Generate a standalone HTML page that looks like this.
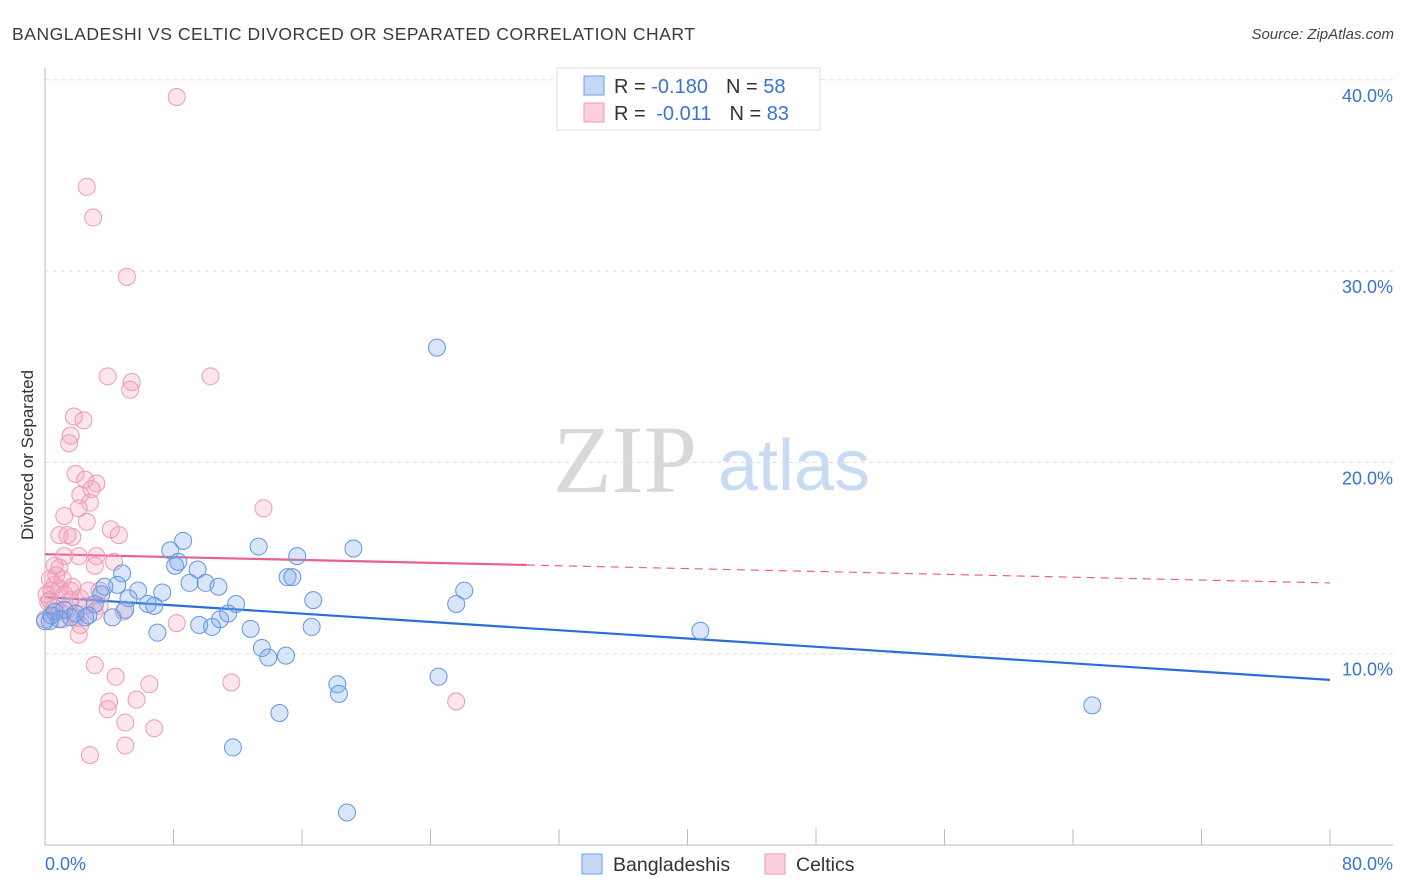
<!DOCTYPE html>
<html><head><meta charset="utf-8"><style>
body{margin:0;background:#fff;font-family:"Liberation Sans",sans-serif;}
svg{display:block}
</style></head><body>
<svg id="chart" width="1406" height="892" xmlns="http://www.w3.org/2000/svg">
<text x="12" y="40" font-size="17.5" fill="#3a3a3a" textLength="683" lengthAdjust="spacing">BANGLADESHI VS CELTIC DIVORCED OR SEPARATED CORRELATION CHART</text>
<text x="1394" y="39" font-size="15" fill="#444" font-style="italic" text-anchor="end">Source: ZipAtlas.com</text>
<g>
<text x="553" y="492" font-family="Liberation Serif,serif" font-size="96" fill="#d8d8d8">ZIP</text>
<text x="718" y="490" font-size="72" fill="#c8dbf3">atlas</text>
</g>
<g id="grid"></g>
<g id="axes"></g>
<g id="trend"></g>
<g id="points"></g>
<text transform="translate(33,455) rotate(-90)" font-size="17" fill="#333" text-anchor="middle">Divorced or Separated</text>
<g>
<rect x="557" y="68" width="263" height="62" fill="#fff" stroke="#ddd"/>
<rect x="584" y="76" width="20" height="19" fill="#c5d9f6" stroke="#6d9ee6"/>
<rect x="584" y="103" width="20" height="19" fill="#fbd0dc" stroke="#ee9ab4"/>
<text x="614" y="93" font-size="20" fill="#333">R = <tspan fill="#3b73d0">-0.180</tspan><tspan dx="18">N = </tspan><tspan fill="#3b73d0">58</tspan></text>
<text x="614" y="120" font-size="20" fill="#333">R = <tspan dx="5" fill="#3b73d0">-0.011</tspan><tspan dx="18">N = </tspan><tspan fill="#3b73d0">83</tspan></text>
</g>
<g>
<rect x="582" y="854" width="20" height="20" fill="#c5d9f6" stroke="#6d9ee6"/>
<text x="613" y="871" font-size="19.5" fill="#333">Bangladeshis</text>
<rect x="765" y="854" width="20" height="20" fill="#fbd0dc" stroke="#ee9ab4"/>
<text x="796" y="871" font-size="19.5" fill="#333">Celtics</text>
</g>
</svg>
<script>
const xTicks=[0,8,16,24,32,40,48,56,64,72,80];
const yTicks=[10,20,30,40];
const blueX=[24.4,7.8,8.6,13.3,15.7,19.2,8.1,8.3,9.5,15.1,15.4,9.0,10.0,10.8,4.8,3.7,4.5,5.8,7.3,26.1,5.2,6.4,6.8,11.9,16.7,25.6,3.5,3.1,2.5,1.6,0.6,0.3,2.7,4.2,5.0,9.6,10.4,10.9,11.4,12.8,16.6,7.0,13.5,13.9,15.0,40.8,18.2,18.3,24.5,14.6,11.7,18.8,65.2,1.2,1.9,0.9,0.0,0.4];
const blueY=[26.0,15.4,15.9,15.6,15.1,15.5,14.6,14.8,14.4,14.0,14.0,13.7,13.7,13.5,14.2,13.5,13.6,13.3,13.2,13.3,12.9,12.6,12.5,12.6,12.8,12.6,13.1,12.6,11.9,11.9,12.2,11.7,12.0,11.9,12.3,11.5,11.4,11.8,12.1,11.3,11.4,11.1,10.3,9.8,9.9,11.2,8.4,7.9,8.8,6.9,5.1,1.7,7.3,12.3,12.1,11.8,11.7,12.0];
const pinkX=[8.2,2.6,3.0,5.1,3.9,5.4,5.3,10.3,1.8,2.4,1.6,1.5,1.9,2.5,3.2,2.9,2.2,2.8,2.1,1.2,2.6,13.6,4.1,4.6,0.9,1.7,1.4,1.2,2.1,3.2,0.6,0.9,4.3,3.1,0.3,0.6,0.9,1.6,1.7,3.4,1.1,2.2,0.1,0.2,0.6,0.9,1.1,1.9,3.4,2.5,1.6,3.1,4.9,2.2,2.1,8.2,3.1,4.4,6.5,11.6,4.0,5.7,3.9,5.0,6.8,25.6,5.0,2.8,0.4,0.3,0.7,1.2,1.4,2.7,0.0];
const pinkY=[39.1,34.4,32.8,29.7,24.5,24.2,23.8,24.5,22.4,22.2,21.4,21.0,19.4,19.1,18.9,18.6,18.3,17.9,17.6,17.2,16.9,17.6,16.5,16.2,16.2,16.1,16.2,15.1,15.1,15.1,14.6,14.5,14.8,14.6,13.9,13.6,13.4,13.3,13.5,13.3,13.9,12.9,13.1,12.7,12.4,12.2,11.8,11.9,12.5,12.5,12.8,12.2,12.2,11.5,11.0,11.6,9.4,8.8,8.4,8.5,7.5,7.6,7.1,6.4,6.1,7.5,5.2,4.7,13.3,12.8,14.1,13.1,12.3,13.3,11.8];
const blueTrend=[12.96,8.63];
const pinkTrend=[15.2,13.7];
const pinkSolidEnd=30;
const NS="http://www.w3.org/2000/svg";
const X0=45,X1=1330,Y0=845,PY=19.13;
function sx(v){return X0+(X1-X0)*v/80;}
function sy(v){return Y0-v*PY;}
function mk(tag,attrs,parent){const e=document.createElementNS(NS,tag);for(const k in attrs)e.setAttribute(k,attrs[k]);parent.appendChild(e);return e;}
const grid=document.getElementById('grid'),axes=document.getElementById('axes'),trend=document.getElementById('trend'),pts=document.getElementById('points');
yTicks.forEach(t=>{
  const l=mk('line',{x1:X0,x2:1393,y1:sy(t),y2:sy(t),stroke:'#ddd','stroke-dasharray':'4,4'},grid);
  
  
  const tx=mk('text',{x:1393,y:sy(t)+22,'font-size':18,fill:'#3b73d0','text-anchor':'end'},axes);
  tx.textContent=t.toFixed(1)+'%';
  
  
});
const ax=mk('line',{x1:X0,x2:1393,y1:Y0,y2:Y0,stroke:'#bbb'},axes);


const ay=mk('line',{x1:X0,x2:X0,y1:68,y2:Y0,stroke:'#bbb'},axes);


xTicks.forEach(t=>{
  const l=mk('line',{x1:sx(t),x2:sx(t),y1:829,y2:Y0,stroke:'#bbb'},axes);
  
  
});
const xl0=mk('text',{x:45,y:870,'font-size':18,fill:'#3b73d0'},axes);
xl0.textContent=xTicks[0].toFixed(1)+'%';


const xl1=mk('text',{x:1393,y:870,'font-size':18,fill:'#3b73d0','text-anchor':'end'},axes);
xl1.textContent=xTicks[xTicks.length-1].toFixed(1)+'%';


function tv(tr,x){return tr[0]+(tr[1]-tr[0])*x/80;}
pinkX.forEach((x,i)=>{
  const c=mk('circle',{cx:sx(x),cy:sy(pinkY[i]),r:8.5,fill:'rgba(244,160,188,0.28)',stroke:'#ee9ab4','stroke-width':1},pts);
  
  
});
blueX.forEach((x,i)=>{
  const c=mk('circle',{cx:sx(x),cy:sy(blueY[i]),r:8.5,fill:'rgba(120,165,235,0.28)',stroke:'#6297e2','stroke-width':1},pts);
  
  
});
const bt=mk('line',{x1:sx(0),y1:sy(tv(blueTrend,0)),x2:sx(80),y2:sy(tv(blueTrend,80)),stroke:'#2a6fd6','stroke-width':2.2},trend);


const pt=mk('line',{x1:sx(0),y1:sy(tv(pinkTrend,0)),x2:sx(pinkSolidEnd),y2:sy(tv(pinkTrend,pinkSolidEnd)),stroke:'#e8608c','stroke-width':2.2},trend);


const pd=mk('line',{x1:sx(pinkSolidEnd),y1:sy(tv(pinkTrend,pinkSolidEnd)),x2:sx(80),y2:sy(tv(pinkTrend,80)),stroke:'#e8608c','stroke-width':1.2,'stroke-dasharray':'8,6'},trend);


</script>
</body></html>
